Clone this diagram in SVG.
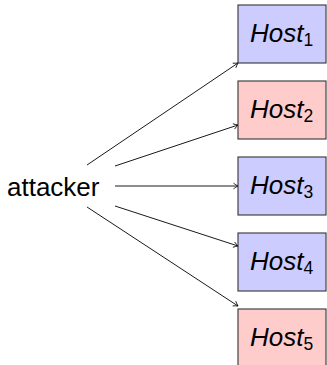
<svg xmlns="http://www.w3.org/2000/svg" width="327" height="365" viewBox="0 0 327 365">
<defs>
<marker id="ar" markerWidth="8" markerHeight="8" refX="6" refY="4" orient="auto" markerUnits="userSpaceOnUse">
<path d="M1.5,1.2 Q4,3 6,4 Q4,5 1.5,6.8" fill="none" stroke="#000" stroke-width="0.8"/>
</marker>
</defs>
<style>
.box{stroke:#333;stroke-width:1.1}
.blue{fill:#ccccff}
.red{fill:#ffcccc}
.lbl{font-family:"Liberation Sans",Arial,sans-serif;font-style:italic;font-size:26px;fill:#000}
.sub{font-size:17.5px;font-style:normal}
.att{font-family:"Liberation Sans",Arial,sans-serif;font-size:26px;fill:#000}
.edge{stroke:#000;stroke-width:0.9;fill:none;marker-end:url(#ar)}
</style>
<g id="connectors">
<line class="edge" x1="87" y1="165" x2="238" y2="63"/>
<line class="edge" x1="115" y1="166" x2="238" y2="125"/>
<line class="edge" x1="115" y1="186" x2="238" y2="186"/>
<line class="edge" x1="115" y1="206" x2="238" y2="246"/>
<line class="edge" x1="87" y1="207" x2="238" y2="306"/>
</g>
<g id="attacker"><text class="att" x="7" y="196">attacker</text></g>
<g id="host1"><rect class="box blue" x="238" y="5" width="88" height="58"/><text class="lbl" x="250" y="42">Host<tspan class="sub" dy="4">1</tspan></text></g>
<g id="host2"><rect class="box red" x="238" y="81" width="88" height="58"/><text class="lbl" x="250" y="118">Host<tspan class="sub" dy="4">2</tspan></text></g>
<g id="host3"><rect class="box blue" x="238" y="157" width="88" height="58"/><text class="lbl" x="250" y="194">Host<tspan class="sub" dy="4">3</tspan></text></g>
<g id="host4"><rect class="box blue" x="238" y="233" width="88" height="58"/><text class="lbl" x="250" y="270">Host<tspan class="sub" dy="4">4</tspan></text></g>
<g id="host5"><rect class="box red" x="238" y="309" width="88" height="58"/><text class="lbl" x="250" y="346">Host<tspan class="sub" dy="4">5</tspan></text></g>
</svg>
